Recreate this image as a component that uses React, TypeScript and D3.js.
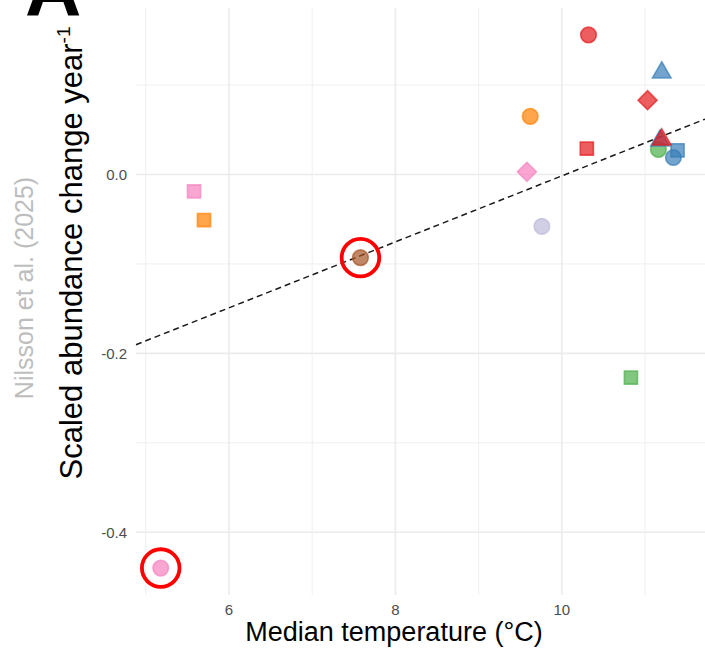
import * as d3 from 'd3';

// median temperature (°C) per population
const medianTemp = [5.18, 5.58, 5.70, 7.58, 9.58, 9.62, 9.76, 10.30, 10.32, 10.83, 11.03, 11.39, 11.34, 11.16, 11.18, 11.20, 11.20];
// scaled abundance change per year
const abundanceChange = [-0.440, -0.019, -0.051, -0.093, 0.003, 0.065, -0.058, 0.029, 0.156, -0.227, 0.083, 0.027, 0.019, 0.028, 0.038, 0.039, 0.114];
// group (colour) and study design (shape) of each point
const groupOf = ['pink', 'pink', 'orange', 'brown', 'pink', 'orange', 'lavender', 'red', 'red', 'green', 'red', 'blue', 'blue', 'green', 'blue', 'red', 'blue'];
const designOf = ['circle', 'square', 'square', 'circle', 'diamond', 'circle', 'circle', 'square', 'circle', 'square', 'diamond', 'square', 'circle', 'circle', 'triangle', 'triangle', 'triangle'];
// highlighted points (index into arrays above)
const highlighted = [0, 3];

const groups = ['red', 'blue', 'green', 'orange', 'pink', 'brown', 'lavender'];
const palette = ['#E41A1C', '#377EB8', '#4DAF4A', '#FF7F00', '#F781BF', '#A65628', '#BEBADA'];

const xMajor = [6, 8, 10];
const xMinor = [5, 7, 9, 11];
const yMajor = [-0.4, -0.2, 0];
const yMinor = [-0.3, -0.1, 0.1];

const W = 705;
const H = 651;
const FONT = '"Liberation Sans", Arial, Helvetica, sans-serif';

export default function App() {
  const x = d3.scaleLinear().domain([4.883, 11.72]).range([136, 705]);
  const y = d3.scaleLinear().domain([-0.4701, 0.1861]).range([595, 8]);
  const color = d3.scaleOrdinal<string, string>().domain(groups).range(palette);

  // OLS fit
  const mx = d3.mean(medianTemp)!;
  const my = d3.mean(abundanceChange)!;
  const sxy = d3.sum(medianTemp, (v, i) => (v - mx) * (abundanceChange[i] - my));
  const sxx = d3.sum(medianTemp, (v) => (v - mx) ** 2);
  const slope = sxy / sxx;
  const intercept = my - slope * mx;
  const [x0, x1] = x.domain();
  const fitLine = d3.line<number>().x((d) => x(d)).y((d) => y(intercept + slope * d))([x0, x1]);

  const [left, right] = x.range();
  const [bottom, top] = y.range();

  const shapePath = (s: string) => {
    if (s === 'circle') return d3.symbol(d3.symbolCircle, 190)()!;
    if (s === 'square') return d3.symbol(d3.symbolSquare, 172)()!;
    if (s === 'triangle') return d3.symbol(d3.symbolTriangle, 150)()!;
    return d3.symbol(d3.symbolSquare, 180)()!;
  };

  const fmtY = (v: number) => d3.format('.1f')(v).replace('−', '-');

  return (
    <svg width={W} height={H} style={{ position: 'absolute', left: 0, top: 0 }} fontFamily={FONT}>
      <rect width={W} height={H} fill="#fff" />
      {/* grid */}
      {xMinor.map((v) => (
        <line key={'xm' + v} x1={x(v)} x2={x(v)} y1={top} y2={bottom} stroke="#EFEFEF" strokeWidth={1} />
      ))}
      {yMinor.map((v) => (
        <line key={'ym' + v} x1={left} x2={right} y1={y(v)} y2={y(v)} stroke="#EFEFEF" strokeWidth={1} />
      ))}
      {xMajor.map((v) => (
        <line key={'xM' + v} x1={x(v)} x2={x(v)} y1={top} y2={bottom} stroke="#EBEBEB" strokeWidth={1.6} />
      ))}
      {yMajor.map((v) => (
        <line key={'yM' + v} x1={left} x2={right} y1={y(v)} y2={y(v)} stroke="#EBEBEB" strokeWidth={1.6} />
      ))}

      {/* tick labels */}
      {xMajor.map((v) => (
        <text key={'xt' + v} x={x(v)} y={615} textAnchor="middle" fontSize={15} fill="#4D4D4D">
          {d3.format('d')(v)}
        </text>
      ))}
      {yMajor.map((v) => (
        <text key={'yt' + v} x={127} y={y(v)} dy="0.35em" textAnchor="end" fontSize={15} fill="#4D4D4D">
          {fmtY(v)}
        </text>
      ))}

      {/* fit */}
      <path d={fitLine ?? ''} fill="none" stroke="#1a1a1a" strokeWidth={1.5} strokeDasharray="6 4" />

      {/* points */}
      {medianTemp.map((t, i) => {
        const c = color(groupOf[i]);
        const rot = designOf[i] === 'diamond' ? ' rotate(45)' : '';
        return (
          <path
            key={'p' + i}
            d={shapePath(designOf[i])}
            transform={`translate(${x(t)},${y(abundanceChange[i])})${rot}`}
            fill={c}
            fillOpacity={0.7}
            stroke={c}
            strokeOpacity={0.7}
            strokeWidth={1.6}
          />
        );
      })}

      {/* highlight rings */}
      {highlighted.map((i) => (
        <circle key={'h' + i} cx={x(medianTemp[i])} cy={y(abundanceChange[i])} r={18.8} fill="none" stroke="#FF0000" strokeWidth={3.8} />
      ))}

      {/* axis titles */}
      <text x={394} y={641} textAnchor="middle" fontSize={27} fill="#000">
        Median temperature (°C)
      </text>
      <text transform="translate(82,253) rotate(-90)" textAnchor="middle" fontSize={31} fill="#000">
        Scaled abundance change year
        <tspan fontSize={19} dy={-12}>-1</tspan>
      </text>
      <text transform="translate(33,288) rotate(-90)" textAnchor="middle" fontSize={25} fill="#BDBDBD">
        Nilsson et al. (2025)
      </text>

      {/* panel tag */}
      <text x={25} y={16} fontSize={78} fontWeight="bold" fill="#000">
        A
      </text>
    </svg>
  );
}
